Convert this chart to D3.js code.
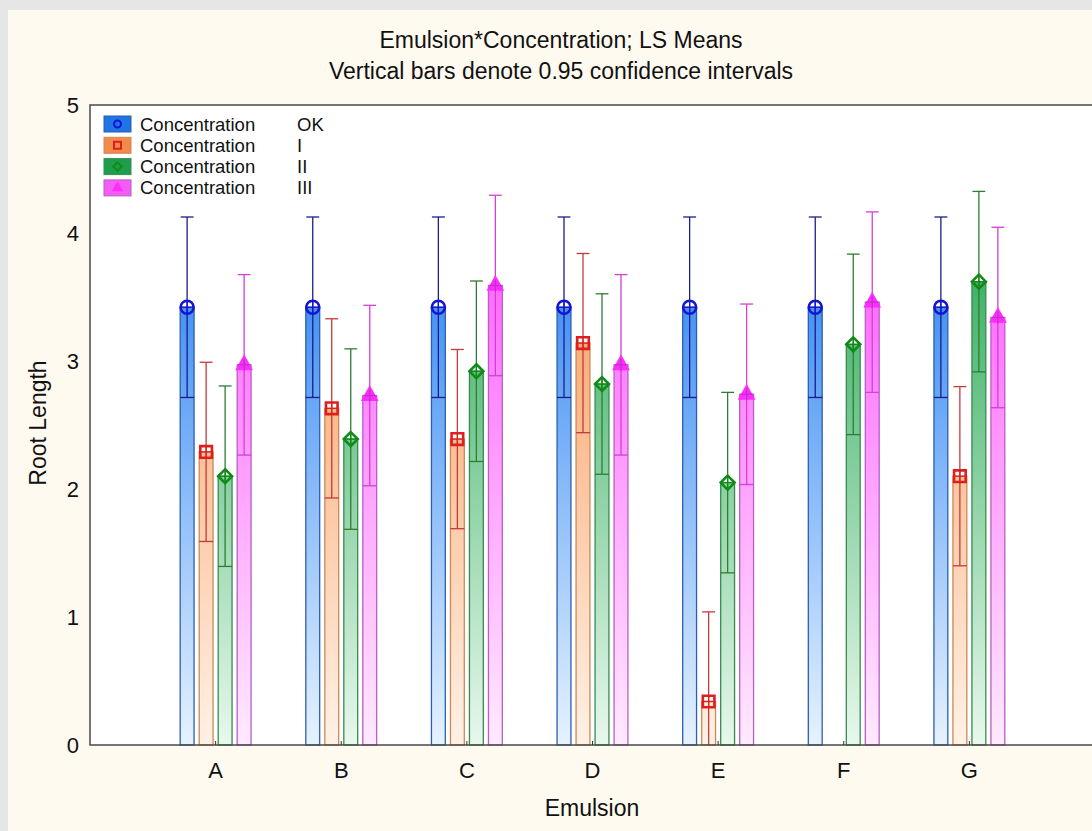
<!DOCTYPE html>
<html lang="en">
<head>
  <meta charset="UTF-8">
  <title>Emulsion*Concentration; LS Means</title>
  <script src="https://d3js.org/d3.v7.min.js"></script>
  <style>
    html, body { margin: 0; padding: 0; background: #e6e6e6; }
    svg { display: block; font-family: "Liberation Sans", Arial, sans-serif; }
  </style>
</head>
<body>
  <svg width="1092" height="831"></svg>

  <script>
    // data
    const categories = ["A", "B", "C", "D", "E", "F", "G"];
    const seriesNames = ["OK", "I", "II", "III"];
    const meanOK  = [3.42, 3.42, 3.42, 3.42, 3.42, 3.42, 3.42];
    const meanI   = [2.29, 2.63, 2.39, 3.14, 0.34, null, 2.10];
    const meanII  = [2.10, 2.39, 2.92, 2.82, 2.05, 3.13, 3.62];
    const meanIII = [2.97, 2.73, 3.59, 2.97, 2.74, 3.46, 3.34];
    const ciHalf  = [0.705, 0.70, 0.705, 0.705];   // half width of 0.95 CI, per series
    const yTicks  = [0, 1, 2, 3, 4, 5];

    const means = [meanOK, meanI, meanII, meanIII];

    const styles = [
      {pale: "#e6f2ff", deep: "#2b83f2", edge: "#2d5fae", line: "#1c1c8a", mark: "#1414d2", swatch: "#1f74e6", shape: "circle"},
      {pale: "#fff1e6", deep: "#f89c5c", edge: "#c98a58", line: "#c43a3a", mark: "#e01e1e", swatch: "#f28a4c", shape: "square"},
      {pale: "#e8f8ed", deep: "#2fab5a", edge: "#3a8a50", line: "#2e7d32", mark: "#118a18", swatch: "#1e9e4c", shape: "diamond"},
      {pale: "#ffeaff", deep: "#ff5cff", edge: "#b560c4", line: "#d23fd8", mark: "#ff2cff", swatch: "#f35df3", shape: "triangle"}
    ];

    const svg = d3.select("svg");
    const W = 1092, H = 831;
    const plot = {left: 90, right: 1095, top: 105, bottom: 745};

    // cream panel
    svg.append("rect").attr("x", 8).attr("y", 10).attr("width", W).attr("height", H)
      .attr("fill", "#fffaf0");

    const x = d3.scaleBand().domain(categories)
      .range([plot.left, plot.right]).paddingInner(0).paddingOuter(0.5);
    const xi = d3.scaleBand().domain(seriesNames)
      .range([-38, 38]).paddingInner(0.27).paddingOuter(0.135);
    const y = d3.scaleLinear().domain([0, 5]).range([plot.bottom, plot.top]);

    const defs = svg.append("defs");
    styles.forEach((s, i) => {
      const g = defs.append("linearGradient").attr("id", "grad" + i)
        .attr("gradientUnits", "userSpaceOnUse")
        .attr("x1", 0).attr("x2", 0).attr("y1", y(0)).attr("y2", y(4));
      g.append("stop").attr("offset", "0%").attr("stop-color", s.pale);
      g.append("stop").attr("offset", "100%").attr("stop-color", s.deep);
    });

    // white plot area
    svg.append("rect").attr("x", plot.left).attr("y", plot.top)
      .attr("width", plot.right - plot.left).attr("height", plot.bottom - plot.top)
      .attr("fill", "#ffffff");

    const bw = xi.bandwidth();
    const capW = bw - 1;

    function markerPath(shape, r) {
      if (shape === "circle") return null;
      if (shape === "square") return `M${-r},${-r}H${r}V${r}H${-r}Z`;
      if (shape === "diamond") return `M0,${-r * 1.2}L${r * 1.2},0L0,${r * 1.2}L${-r * 1.2},0Z`;
      return `M0,${-r * 1.35}L${r * 1.15},${r * 0.7}L${-r * 1.15},${r * 0.7}Z`;
    }

    const bars = svg.append("g");
    categories.forEach((c, ci) => {
      const cx0 = x(c) + x.bandwidth() / 2;
      seriesNames.forEach((sname, si) => {
        const m = means[si][ci];
        if (m == null) return;
        const s = styles[si];
        const bx = cx0 + xi(sname);
        const cx = bx + bw / 2;
        const lo = Math.max(0, m - ciHalf[si]);
        const hi = m + ciHalf[si];
        const g = bars.append("g");

        g.append("rect").attr("x", bx).attr("y", y(m))
          .attr("width", bw).attr("height", y(0) - y(m))
          .attr("fill", `url(#grad${si})`).attr("stroke", s.edge).attr("stroke-width", 1.3);

        // error bar
        g.append("line").attr("x1", cx).attr("x2", cx).attr("y1", y(hi)).attr("y2", y(lo))
          .attr("stroke", s.line).attr("stroke-width", 1.3);
        g.append("line").attr("x1", cx - capW / 2).attr("x2", cx + capW / 2)
          .attr("y1", y(hi)).attr("y2", y(hi)).attr("stroke", s.line).attr("stroke-width", 1.3);
        if (m - ciHalf[si] > 0) {
          g.append("line").attr("x1", bx).attr("x2", bx + bw)
            .attr("y1", y(lo)).attr("y2", y(lo)).attr("stroke", s.line).attr("stroke-width", 1.3);
        }

        // marker
        const my = y(m);
        if (s.shape === "circle") {
          g.append("circle").attr("cx", cx).attr("cy", my).attr("r", 6.5)
            .attr("fill", "none").attr("stroke", s.mark).attr("stroke-width", 2.6);
        } else {
          g.append("path").attr("transform", `translate(${cx},${my})`)
            .attr("d", markerPath(s.shape, 5.8))
            .attr("fill", s.shape === "triangle" ? s.mark : "none")
            .attr("stroke", s.mark).attr("stroke-width", 2.6).attr("stroke-linejoin", "miter");
        }
        g.append("line").attr("x1", cx - 6).attr("x2", cx + 6).attr("y1", my).attr("y2", my)
          .attr("stroke", s.shape === "triangle" ? "#c030c8" : s.mark).attr("stroke-width", 1.3);
        g.append("line").attr("x1", cx).attr("x2", cx).attr("y1", my - 6).attr("y2", my + 6)
          .attr("stroke", s.shape === "triangle" ? "#c030c8" : s.mark).attr("stroke-width", 1.3);
      });
    });

    // frame and axes
    svg.append("path")
      .attr("d", `M${plot.left},${plot.bottom}V${plot.top}H${plot.right}V${plot.bottom}Z`)
      .attr("fill", "none").attr("stroke", "#4a4a4a").attr("stroke-width", 1.5);

    svg.append("g").selectAll("line").data(categories).join("line")
      .attr("x1", d => x(d) + x.bandwidth() / 2).attr("x2", d => x(d) + x.bandwidth() / 2)
      .attr("y1", plot.bottom).attr("y2", plot.bottom - 4)
      .attr("stroke", "#333").attr("stroke-width", 1);

    svg.append("g").selectAll("text").data(categories).join("text")
      .attr("x", d => x(d) + x.bandwidth() / 2).attr("y", 770)
      .attr("text-anchor", "middle").attr("dominant-baseline", "central")
      .attr("font-size", 22).attr("fill", "#111").text(d => d);

    svg.append("g").selectAll("text").data(yTicks).join("text")
      .attr("x", 79).attr("y", d => y(d))
      .attr("text-anchor", "end").attr("dominant-baseline", "central")
      .attr("font-size", 22).attr("fill", "#111").text(d => d);

    // titles
    svg.append("text").attr("x", 561).attr("y", 40).attr("text-anchor", "middle")
      .attr("dominant-baseline", "central").attr("font-size", 23).attr("fill", "#111")
      .text("Emulsion*Concentration; LS Means");
    svg.append("text").attr("x", 561).attr("y", 71).attr("text-anchor", "middle")
      .attr("dominant-baseline", "central").attr("font-size", 23).attr("fill", "#111")
      .text("Vertical bars denote 0.95 confidence intervals");
    svg.append("text").attr("x", 592).attr("y", 808).attr("text-anchor", "middle")
      .attr("dominant-baseline", "central").attr("font-size", 23).attr("fill", "#111")
      .text("Emulsion");
    svg.append("text").attr("transform", "translate(38,423) rotate(-90)")
      .attr("text-anchor", "middle").attr("dominant-baseline", "central")
      .attr("font-size", 23).attr("fill", "#111").text("Root Length");

    // legend
    const legend = svg.append("g");
    seriesNames.forEach((sname, i) => {
      const s = styles[i];
      const ly = 124 + i * 21.3;
      legend.append("rect").attr("x", 104).attr("y", ly - 8).attr("width", 27).attr("height", 16)
        .attr("fill", s.swatch).attr("stroke", s.edge).attr("stroke-width", 1);
      if (s.shape === "circle") {
        legend.append("circle").attr("cx", 117.5).attr("cy", ly).attr("r", 3.5)
          .attr("fill", "none").attr("stroke", s.mark).attr("stroke-width", 2);
      } else {
        legend.append("path").attr("transform", `translate(117.5,${ly})`)
          .attr("d", markerPath(s.shape, 3.5))
          .attr("fill", s.shape === "triangle" ? s.mark : "none")
          .attr("stroke", s.mark).attr("stroke-width", 2);
      }
      legend.append("text").attr("x", 140).attr("y", ly).attr("dominant-baseline", "central")
        .attr("font-size", 18.5).attr("fill", "#111").text("Concentration");
      legend.append("text").attr("x", 297).attr("y", ly).attr("dominant-baseline", "central")
        .attr("font-size", 18.5).attr("fill", "#111").text(sname);
    });
  </script>
</body>
</html>
